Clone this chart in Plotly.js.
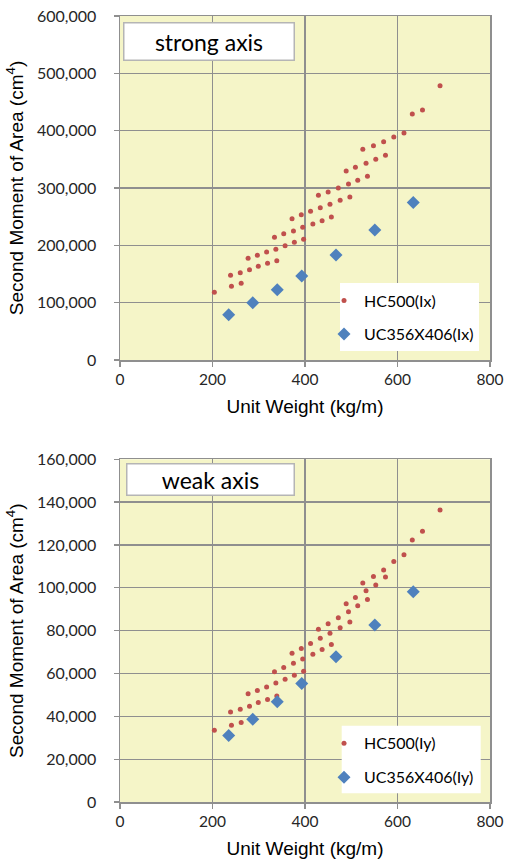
<!DOCTYPE html>
<html>
<head>
<meta charset="utf-8">
<script src="https://cdn.plot.ly/plotly-3.0.1.min.js"></script>
<style>html,body{margin:0;padding:0;background:#fff;}#chart{width:505px;height:861px;}</style>
</head>
<body>
<div id="chart"></div>
<script>
// HC500 sections: unit weight (kg/m), strong-axis and weak-axis second moments (cm^4)
var hcWeight = [204, 241, 262, 239, 260, 280, 299, 319, 339, 277, 297, 317, 337, 357, 377, 397, 334, 354, 375, 395, 417, 437, 457, 372, 392, 412, 433, 454, 476, 497, 429, 450, 472, 494, 514, 535, 489, 509, 532, 553, 574, 525, 548, 570, 592, 614, 632, 654, 692];
var hcIx = [118000, 128500, 133700, 147700, 152300, 157600, 163400, 168600, 173200, 177400, 182600, 188400, 193000, 199400, 205300, 210500, 214000, 220300, 225000, 231400, 237200, 243000, 249400, 246500, 253400, 259300, 265600, 271600, 278500, 284300, 287300, 293000, 300000, 307000, 313400, 320400, 329700, 336100, 343100, 350000, 357000, 367500, 373800, 380800, 389000, 396000, 429100, 436000, 478400];
var hcIy = [33500, 35800, 37100, 42000, 43300, 44700, 46400, 47800, 49500, 50500, 52000, 53700, 55500, 57300, 59200, 61100, 60800, 62800, 64800, 66800, 69000, 71200, 73500, 69500, 71700, 74000, 76500, 78800, 81300, 84000, 80700, 83200, 86000, 88800, 91600, 94600, 92500, 95500, 98600, 101300, 105100, 102300, 105300, 108300, 112300, 115400, 122300, 126400, 136300];

// UC356x406 sections
var ucWeight = [235, 287, 340, 393, 467, 551, 634];
var ucIx = [79085, 99875, 122543, 146618, 183003, 226938, 274845];
var ucIy = [30992, 38676, 46850, 55367, 67834, 82670, 98125];

var seriesNames = ['HC500(Ix)', 'UC356X406(Ix)', 'HC500(Iy)', 'UC356X406(Iy)'];
var panelLabels = ['strong axis', 'weak axis'];
var xTitle = 'Unit Weight (kg/m)';
var yTitle = 'Second Moment of Area (cm<sup>4</sup>)';

var RED = '#C0504D', BLUE = '#4F81BD';
var dot = {color: RED, size: 5, symbol: 'circle'};
var dia = {color: BLUE, size: 10, symbol: 'diamond'};

var traces = [
  {x: hcWeight, y: hcIx, xaxis: 'x', yaxis: 'y', mode: 'markers', type: 'scatter', name: seriesNames[0], marker: dot, legend: 'legend'},
  {x: ucWeight, y: ucIx, xaxis: 'x', yaxis: 'y', mode: 'markers', type: 'scatter', name: seriesNames[1], marker: dia, legend: 'legend2'},
  {x: hcWeight, y: hcIy, xaxis: 'x2', yaxis: 'y2', mode: 'markers', type: 'scatter', name: seriesNames[2], marker: dot, legend: 'legend3'},
  {x: ucWeight, y: ucIy, xaxis: 'x2', yaxis: 'y2', mode: 'markers', type: 'scatter', name: seriesNames[3], marker: dia, legend: 'legend4'}
];

var GRID = '#8f8f8f';
var tickFont = {family: 'Lato, sans-serif', size: 16, color: '#262626'};
var xTickFont = {family: 'Lato, sans-serif', size: 15.5, color: '#262626'};
var titleFont = {family: '"Liberation Sans", Arial, sans-serif', size: 19, color: '#000'};

function xAx(anchor) {
  return {
    anchor: anchor, range: [0, 800], tickvals: [0, 200, 400, 600, 800],
    ticklabeloverflow: 'allow',
    showgrid: true, gridcolor: GRID, gridwidth: 1.3,
    showline: true, linecolor: GRID, linewidth: 1.5, mirror: true,
    ticks: 'outside', ticklen: 5, tickcolor: GRID, tickwidth: 1.3,
    tickfont: xTickFont, zeroline: false,
    title: {text: xTitle, font: titleFont, standoff: 12}
  };
}
function yAx(anchor, domain, top, step) {
  return {
    anchor: anchor, domain: domain, range: [0, top], dtick: step, tick0: 0,
    tickformat: ',d',
    showgrid: true, gridcolor: GRID, gridwidth: 1.3,
    showline: true, linecolor: GRID, linewidth: 1.5, mirror: true,
    ticks: 'outside', ticklen: 5, tickcolor: GRID, tickwidth: 1.3,
    ticklabelstandoff: 14,
    tickfont: tickFont, zeroline: false,
    title: {text: yTitle, font: titleFont, standoff: 8}
  };
}

function leg(y) {
  return {
    x: 0.5514, xanchor: 'left', y: y, yanchor: 'middle',
    bgcolor: 'rgba(0,0,0,0)', borderwidth: 0,
    font: {family: 'Lato, sans-serif', size: 16, color: '#000'}
  };
}

var layout = {
  width: 505, height: 861,
  margin: {l: 120, r: 15, t: 16, b: 59},
  paper_bgcolor: '#ffffff',
  plot_bgcolor: '#F5F5C8',
  showlegend: true,
  xaxis: xAx('y'),
  yaxis: yAx('x', [0.5623, 1], 600000, 100000),
  xaxis2: xAx('y2'),
  yaxis2: yAx('x2', [0, 0.436], 160000, 20000),
  legend: leg(0.6378),
  legend2: leg(0.5954),
  legend3: leg(0.0747),
  legend4: leg(0.0314),
  shapes: [
    {type: 'rect', xref: 'paper', yref: 'paper', x0: 0.5946, x1: 0.9703, y0: 0.5738, y1: 0.6603,
     fillcolor: '#ffffff', line: {width: 0}, layer: 'above'},
    {type: 'rect', xref: 'paper', yref: 'paper', x0: 0.5992, x1: 0.9749, y0: 0.0111, y1: 0.0971,
     fillcolor: '#ffffff', line: {width: 0}, layer: 'above'}
  ],
  annotations: [
    {text: panelLabels[0], xref: 'paper', yref: 'paper', x: 0.0081, y: 0.9924,
     xanchor: 'left', yanchor: 'top', showarrow: false, width: 169, height: 36,
     bgcolor: '#ffffff', bordercolor: '#b5b5b5', borderwidth: 1.5, borderpad: 0,
     font: {family: 'Lato, sans-serif', size: 23, color: '#000'}},
    {text: panelLabels[1], xref: 'paper', yref: 'paper', x: 0.0162, y: 0.4313,
     xanchor: 'left', yanchor: 'top', showarrow: false, width: 166, height: 30,
     bgcolor: '#ffffff', bordercolor: '#b5b5b5', borderwidth: 1.5, borderpad: 0,
     font: {family: 'Lato, sans-serif', size: 23, color: '#000'}}
  ]
};

Plotly.newPlot('chart', traces, layout, {displayModeBar: false, staticPlot: true});
</script>
</body>
</html>
